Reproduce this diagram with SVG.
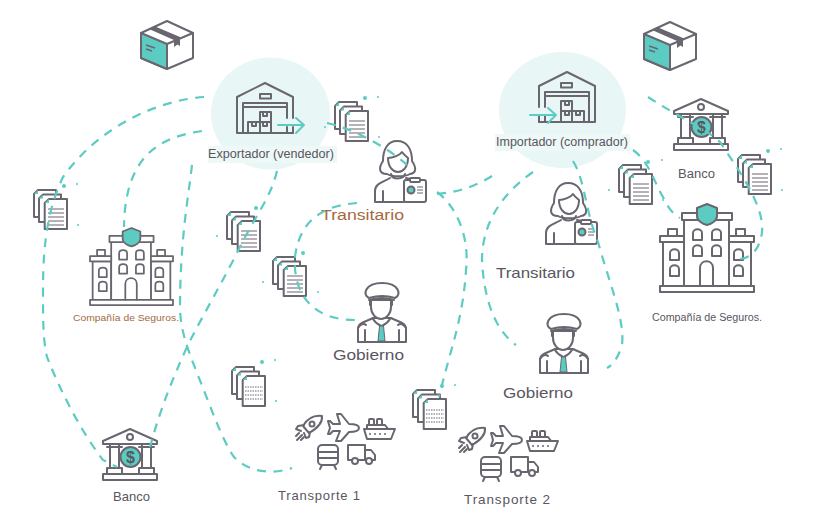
<svg xmlns="http://www.w3.org/2000/svg" width="822" height="528" viewBox="0 0 822 528">
<style>
  .o{fill:#fff;stroke:#6a6670;stroke-width:2;stroke-linejoin:round;stroke-linecap:round}
  .n{fill:none;stroke:#6a6670;stroke-width:2;stroke-linejoin:round;stroke-linecap:round}
  .t{fill:#5ccbc2;stroke:#6a6670;stroke-width:2;stroke-linejoin:round}
  .a{fill:none;stroke:#5ccbc2;stroke-width:2;stroke-linecap:round;stroke-linejoin:round}
  .dash{fill:none;stroke:#5ccbc2;stroke-width:2.2;stroke-dasharray:9 7.5}
  .dot{fill:#5ccbc2}
  .thin{fill:none;stroke:#6a6670;stroke-width:1}
  text{font-family:"Liberation Sans",Arial,sans-serif;fill:#59565f}
  .brown{fill:#a4693f}
  .tag{fill:#edf8f7}
</style>
<defs>
  <g id="box">
    <path class="o" stroke-width="2.500" d="M0,12 L26,0 L52,12 V37 L26,48 L0,37 Z"/>
    <path class="t" stroke-width="2.500" d="M0,12 L26,23 V48 L0,37 Z"/>
    <path class="n" d="M26,23 L52,12"/>
    <path d="M13,5 L39,16 V25 L36.500,23.500 L33,26 V19 L8,8 Z" fill="#6a6670"/>
    <path d="M5,24 L14,27 M5,28 L11,30" stroke="#6a6670" stroke-width="1.400" fill="none"/>
  </g>
  <g id="warehouse">
    <path class="n" d="M22,50 H-28 V14 L0,0 L28,14 V35 M28,44 V50"/>
    <path class="n" d="M-22,50 V20 H22 V35 M22,44 V50 M-22,24 H22"/>
    <rect class="n" x="-5" y="11" width="11" height="4.500"/>
    <path class="n" d="M-17,39 H-5 V50 H-17 Z M-5,39 H6 V50 H-5 Z M-5,29 H6 V39 H-5 Z M-13,39 V43 H-9 V39 M-2,39 V43 H2 V39 M-2,29 V33 H2 V29"/>
    <path d="M22,50 H28" class="n"/>
  </g>
  <g id="pages">
    <path class="o" d="M4,0 H22 V27 H0 V4 Z"/>
    <path class="o" d="M9,4.500 H27 V32 H5 V8.500 Z"/>
    <path class="o" d="M15,9 H33 V39 H10.700 V13 Z"/>
    <path d="M4,0 V4 H0 Z M9,4.500 V8.500 H5 Z M15,9 V13 H10.700 Z" fill="#5ccbc2"/>
  </g>
  <g id="docs">
    <use href="#pages"/>
    <path class="thin" d="M14,19 H30 M14,23 H30 M14,27 H30 M14,31 H30 M14,35 H30"/>
  </g>
  <g id="docs-dense">
    <use href="#pages"/>
    <path class="thin" stroke-dasharray="1.500 1" d="M13,20 H31 M13,24 H31 M13,28 H31 M13,32 H31"/>
  </g>
  <g id="bank">
    <path class="o" d="M1,12 L28,0 L55,12 V15 H1 Z"/>
    <circle class="n" cx="28" cy="8" r="3"/>
    <rect class="o" x="8" y="15" width="9" height="24"/>
    <rect class="o" x="40" y="15" width="9" height="24"/>
    <path class="n" d="M5,18 H20 M37,18 H52"/>
    <rect class="o" x="5" y="39" width="15" height="6"/>
    <rect class="o" x="37" y="39" width="15" height="6"/>
    <rect class="o" x="1" y="45" width="54" height="6"/>
    <circle class="t" cx="28.500" cy="28" r="10" stroke-width="1.200"/>
    <text x="28.500" y="34" font-size="16" font-weight="700" text-anchor="middle" style="fill:#5a5660">$</text>
  </g>
  <path id="win" class="n" d="M0,11 V4 C0,-1 9,-1 9,4 V11 Z"/>
  <g id="insurance">
    <rect class="o" x="3" y="38" width="21" height="45"/>
    <rect class="o" x="69" y="38" width="22" height="45"/>
    <rect class="o" x="24" y="16" width="45" height="67"/>
    <rect class="o" x="8" y="25" width="9" height="7"/>
    <rect class="o" x="76" y="25" width="9" height="7"/>
    <rect class="o" x="0" y="32" width="24" height="6"/>
    <rect class="o" x="69" y="32" width="25" height="6"/>
    <rect class="o" x="22" y="9" width="50" height="7"/>
    <rect class="o" x="0" y="82" width="94" height="6"/>
    <path class="t" d="M47,0 L57,4 V12 C57,17 51,20 47,21 C43,20 37,17 37,12 V4 Z" stroke-width="1.500"/>
    <use href="#win" x="33" y="25"/><use href="#win" x="52" y="25"/>
    <use href="#win" x="33" y="41"/><use href="#win" x="52" y="41"/>
    <use href="#win" x="10" y="45"/><use href="#win" x="10" y="61"/>
    <use href="#win" x="74" y="45"/><use href="#win" x="74" y="61"/>
    <path class="n" d="M40,82 V64 C40,55 53,55 53,64 V82"/>
  </g>
  <g id="woman">
    <path class="o" d="M13,33 C4,33 5,26 9,20 C9,8 14,0 23,0 C33,0 38,8 38,20 C42,26 43,32 36,33 C31,36 18,36 13,33 Z"/>
    <path class="o" d="M14,17 C19,17 26,14 28,11 C30,14 33,16 34,17 C34,26 29,31 24,31 C19,31 14,26 14,17 Z"/>
    <path class="n" d="M17,33 C18,39 29,39 31,33"/>
    <path class="n" d="M30,61 H1 V50 C1,42 10,41 16,37 M32,37 L36,38 M9,61 V50"/>
    <rect class="o" x="30" y="39" width="22" height="22" rx="2"/>
    <rect class="o" x="36" y="37" width="10" height="4" rx="1"/>
    <circle class="t" cx="37" cy="49" r="3.500" stroke-width="1.200"/>
    <path class="thin" d="M43,46 H49 M43,49 H49 M43,52 H49" stroke-width="1.200"/>
  </g>
  <g id="officer">
    <path class="o" d="M1,60 V46 C1,41 8,40 16,36 H34 C42,40 49,41 49,46 V60 Z"/>
    <path class="n" d="M8,60 V48 M42,60 V48 M1,46 C3,42 7,41 9,43 M49,46 C47,42 43,41 41,43"/>
    <path class="o" d="M14,18 H34 V25 C34,32 29,37 24,37 C19,37 14,32 14,25 Z"/>
    <path class="n" d="M16,37 C19,42 22,43 24.500,44 C27,43 30,42 33,37"/>
    <path d="M22.500,44 H26.500 L28,59 H21 Z" fill="#5ccbc2" stroke="#6a6670" stroke-width="1"/>
    <path class="o" d="M12,16 C5,13 8,1 25,1 C42,1 45,13 38,16 C30,13.500 20,13.500 12,16 Z"/>
    <path class="n" d="M12,18 C20,15.500 30,15.500 37,18" stroke-width="2.400"/>
    <path class="n" d="M13,19 V23 M35,19 V23" stroke-width="2.600"/>
  </g>
  <g id="transport">
    <path class="o" d="M27,2 C19,1 12,5 8,12 L14,19 C21,15 28,10 27,2 Z"/>
    <path class="n" d="M9,11 L3,12 L1,15 L6,17 M15,18 L14,23 L11,24 L9,19"/>
    <circle class="n" cx="17" cy="10" r="2.500"/>
    <path class="n" d="M4,19 L1,22 M7,21 L2,26 M9,23 L6,26" stroke-width="1.400"/>
    <path class="o" d="M64,14 C64,11 59,10 54,10 L46,0 H42 L45,10 L38,10 L35,7 H33 L35,14 L33,20 H35 L38,17 H45 L41,27 H46 L54,18 C59,18 64,17 64,14 Z"/>
    <rect class="o" x="74" y="5" width="5" height="6" rx="1"/>
    <rect class="o" x="82" y="5" width="5" height="6" rx="1"/>
    <path class="o" d="M72,16 V11 H90 L94,16 Z"/>
    <path class="o" d="M69,15 H100 L96,25 H72 Z"/>
    <path d="M74,20 H94" stroke="#6a6670" stroke-width="1.600" stroke-dasharray="2 3" fill="none"/>
    <rect class="o" x="23" y="31" width="20" height="20" rx="4"/>
    <path class="n" d="M23,38 H43 M23,44 H43 M27,51 L25,55 M39,51 L41,55"/>
    <path class="o" d="M53,31 H70 V46 H53 Z"/>
    <path class="o" d="M70,36 H76 L80,41 V46 H70 Z"/>
    <circle class="o" cx="60" cy="47" r="3"/>
    <circle class="o" cx="74" cy="47" r="3"/>
  </g>
</defs>

<!-- pale discs under the two warehouses -->
<ellipse cx="270.500" cy="113.500" rx="59.500" ry="56" fill="#e8f6f5"/>
<ellipse cx="562.500" cy="110" rx="63.500" ry="58" fill="#e8f6f5"/>

<g id="box-exportador"><use href="#box" x="141" y="21"/></g>
<g id="box-importador"><use href="#box" x="644" y="22"/></g>

<g id="exportador">
  <use href="#warehouse" transform="translate(265,83)"/>
  <path class="a" d="M278,125 H304 M296,118 L304,125 L296,133"/>
  <rect class="tag" x="208" y="146" width="129" height="17"/>
  <text x="208" y="158" font-size="12" textLength="126" lengthAdjust="spacingAndGlyphs">Exportador (vendedor)</text>
</g>
<g id="importador">
  <use href="#warehouse" transform="translate(567,72) scale(-1,1)"/>
  <path class="a" d="M530,115 H556 M548,108 L556,115 L548,123"/>
  <rect class="tag" x="495" y="134" width="135" height="17"/>
  <text x="496" y="146" font-size="12" textLength="132" lengthAdjust="spacingAndGlyphs">Importador (comprador)</text>
</g>

<g id="documentos">
  <use href="#docs" x="34" y="190"/>
  <use href="#docs" x="227" y="212"/>
  <use href="#docs" x="335" y="102"/>
  <use href="#docs" x="273" y="257"/>
  <use href="#docs-dense" x="232" y="367"/>
  <use href="#docs-dense" x="413" y="390"/>
  <use href="#docs" x="619" y="165"/>
  <use href="#docs" x="738" y="155"/>
</g>

<g id="banco-1">
  <use href="#bank" x="102" y="429"/>
  <text x="113" y="501" font-size="13" textLength="37" lengthAdjust="spacingAndGlyphs">Banco</text>
</g>
<g id="banco-2">
  <use href="#bank" x="673" y="99"/>
  <text x="678" y="178" font-size="12.500" textLength="37" lengthAdjust="spacingAndGlyphs">Banco</text>
</g>

<g id="seguros-1">
  <use href="#insurance" transform="translate(90,228) scale(.883,.875)"/>
  <text class="brown" x="73" y="321" font-size="9.500" textLength="106" lengthAdjust="spacingAndGlyphs">Compañía de Seguros.</text>
</g>
<g id="seguros-2">
  <use href="#insurance" x="660" y="204"/>
  <text x="652" y="321" font-size="10" textLength="110" lengthAdjust="spacingAndGlyphs">Compañía de Seguros.</text>
</g>

<g id="transitario-1">
  <use href="#woman" x="374" y="141"/>
  <text class="brown" x="321" y="220" font-size="14" textLength="83" lengthAdjust="spacingAndGlyphs">Transitario</text>
</g>
<g id="transitario-2">
  <use href="#woman" x="545" y="183"/>
  <text x="496" y="278" font-size="15" textLength="79" lengthAdjust="spacingAndGlyphs">Transitario</text>
</g>

<g id="gobierno-1">
  <use href="#officer" x="357" y="282"/>
  <text x="333" y="360" font-size="14.500" textLength="71" lengthAdjust="spacingAndGlyphs">Gobierno</text>
</g>
<g id="gobierno-2">
  <use href="#officer" x="539" y="313"/>
  <text x="503" y="398" font-size="14.500" textLength="70" lengthAdjust="spacingAndGlyphs">Gobierno</text>
</g>

<g id="transporte-1">
  <use href="#transport" x="295" y="414"/>
  <text x="278" y="500" font-size="13" textLength="82">Transporte 1</text>
</g>
<g id="transporte-2">
  <use href="#transport" x="458" y="426"/>
  <text x="464" y="504" font-size="13.500" textLength="86">Transporte 2</text>
</g>

<g id="conectores">
  <path class="dash" d="M204,97 C160,100 100,125 63,177 C50,205 43,235 43,290 C43,320 43,340 47,357 C60,390 80,430 103,460 L117,467"/>
  <path class="dash" d="M202,131 C160,137 125,155 124,227"/>
  <path class="dash" d="M192,165 C188,200 180,240 180,310 C181,330 186,345 197,373 C210,405 222,440 234,457 C250,474 275,474 292,468"/>
  <path class="dash" d="M277,171 C270,200 255,215 235,257 C215,295 195,330 187,347 C172,380 160,410 150,447"/>
  <path class="dash" d="M357,203 C330,205 300,215 295,257 C293,285 305,320 355,320"/>
  <path class="dash" d="M327,123 C350,128 385,145 407,165"/>
  <path class="dash" d="M437,194 C460,192 480,185 498,172"/>
  <path class="dash" d="M437,192 C455,205 470,235 466,270 C463,320 450,350 439,397"/>
  <path class="dash" d="M533,172 C500,195 482,225 482,260 C484,300 495,330 516,345"/>
  <path class="dash" d="M573,161 C585,180 585,210 598,242 C610,285 625,320 622,345 C618,358 613,365 607,368"/>
  <path class="dash" d="M633,150 C650,162 655,185 663,197 C668,208 673,214 680,218"/>
  <path class="dash" d="M648,97 C680,118 705,128 720,142 C735,165 765,205 762,232 C760,250 750,258 740,259"/>
  <g class="dot">
    <circle cx="64" cy="186" r="2"/><circle cx="77" cy="184" r="1"/><circle cx="78" cy="225" r="1"/>
    <circle cx="256" cy="208" r="2"/><circle cx="217" cy="236" r="1"/>
    <circle cx="365" cy="98" r="2"/><circle cx="378" cy="97" r="1"/><circle cx="379" cy="137" r="1"/><circle cx="325" cy="127" r="1"/>
    <circle cx="303" cy="253" r="2"/><circle cx="263" cy="282" r="1"/><circle cx="318" cy="292" r="1"/>
    <circle cx="262" cy="362" r="2"/><circle cx="275" cy="360" r="1"/><circle cx="276" cy="401" r="1"/>
    <circle cx="442" cy="386" r="2"/><circle cx="455" cy="385" r="1"/>
    <circle cx="648" cy="162" r="2"/><circle cx="662" cy="160" r="1"/><circle cx="609" cy="190" r="1"/><circle cx="663" cy="200" r="1"/>
    <circle cx="768" cy="151" r="2"/><circle cx="781" cy="149" r="1"/><circle cx="782" cy="190" r="1"/>
  </g>
</g>
</svg>
